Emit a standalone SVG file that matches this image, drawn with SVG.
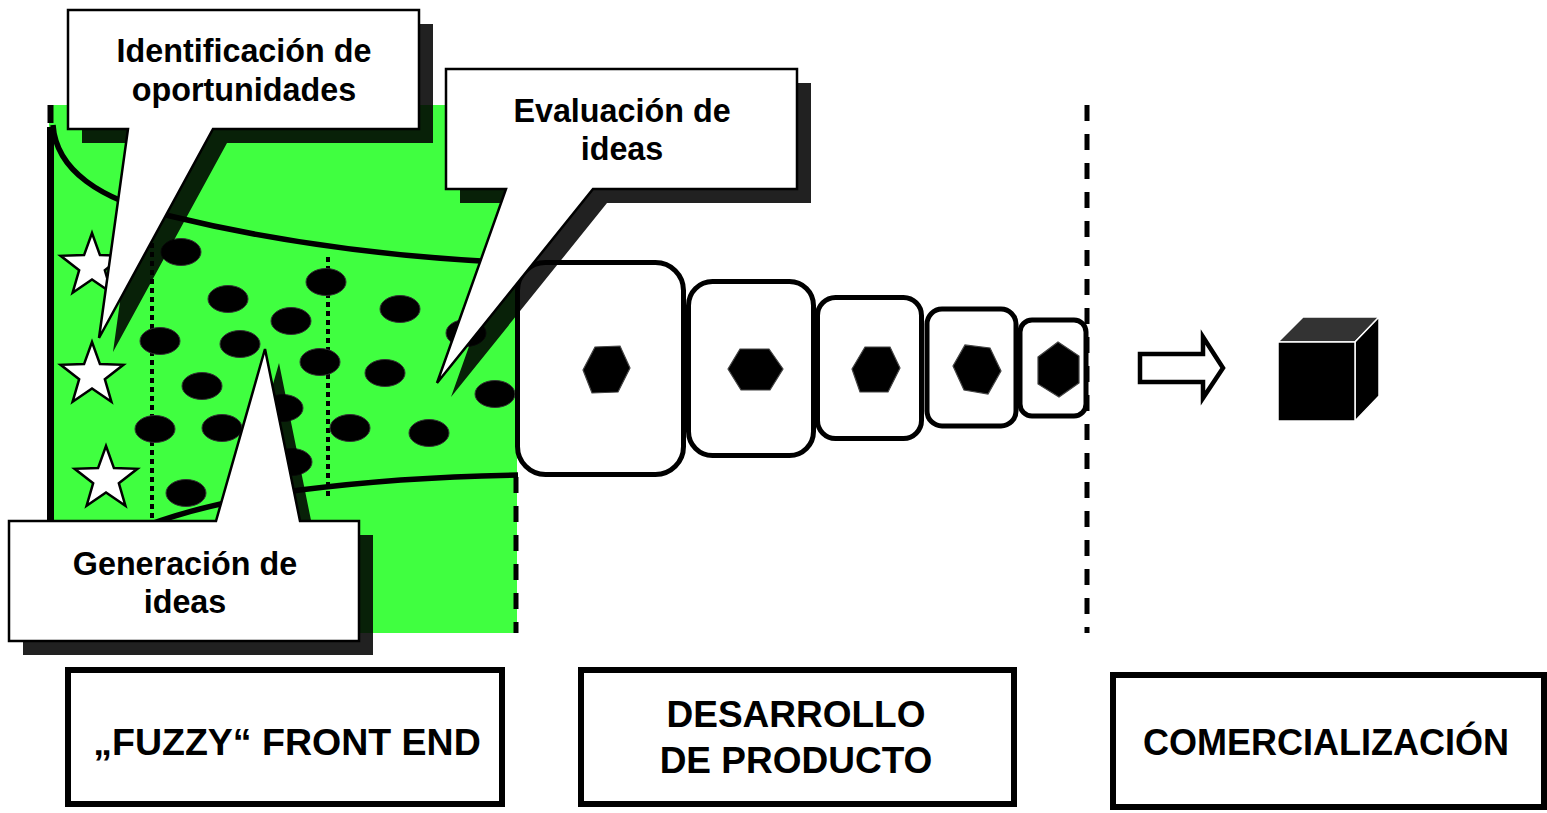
<svg xmlns="http://www.w3.org/2000/svg" width="1547" height="813" viewBox="0 0 1547 813">
<style>
.shadow{fill:#000;fill-opacity:.87}
.callout{fill:#fff;stroke:#000;stroke-width:2.5;stroke-linejoin:miter}
.ct{font-family:"Liberation Sans",Arial,sans-serif;font-weight:bold;font-size:32.3px;text-anchor:middle;fill:#000}
.lbox{fill:#fff;stroke:#000;stroke-width:6}
.lt{font-family:"Liberation Sans",Arial,sans-serif;font-weight:bold;font-size:36px;text-anchor:middle;fill:#000}
.dev{fill:#fff;stroke:#000;stroke-width:5}
.hex{fill:#000;stroke:#444;stroke-width:1.2}
.dot{fill:#000;stroke:#333;stroke-width:1}
.star{fill:#fff;stroke:#000;stroke-width:2.5;stroke-linejoin:miter}
.thick{fill:none;stroke:#000;stroke-width:5.5}
.dotted{fill:none;stroke:#000;stroke-width:4;stroke-dasharray:5 4}
.dashed{fill:none;stroke:#000;stroke-width:5;stroke-dasharray:16 13}
</style>
<defs>
<polygon id="star" class="star" points="0,-33 7.94,-10.92 31.38,-10.2 12.84,4.17 19.4,26.7 0,13.5 -19.4,26.7 -12.84,4.17 -31.38,-10.2 -7.94,-10.92"/>
<ellipse id="dot" class="dot" cx="0" cy="0" rx="20" ry="13.5"/>
</defs>
<rect width="1547" height="813" fill="#fff"/>

<g id="fuzzy-area">
<rect x="49" y="105" width="468" height="528" fill="#40ff40"/>
<line x1="50.5" y1="105" x2="50.5" y2="123" stroke="#000" stroke-width="6"/>
<line x1="50.5" y1="127" x2="50.5" y2="633" stroke="#000" stroke-width="7"/>
<path class="thick" d="M53,125 C56,170 100,200 170,216 C260,238 380,257 518,263"/>
<path class="thick" d="M130,532 Q200,503 300,490 T518,475"/>
<line class="dotted" x1="152" y1="243" x2="152" y2="528"/>
<line class="dotted" x1="328" y1="257" x2="328" y2="496"/>
</g>

<g id="ideas">
<use href="#dot" x="181" y="252"/>
<use href="#dot" x="228" y="299"/>
<use href="#dot" x="326" y="282"/>
<use href="#dot" x="291" y="321"/>
<use href="#dot" x="400" y="309"/>
<use href="#dot" x="160" y="341"/>
<use href="#dot" x="240" y="344"/>
<use href="#dot" x="320" y="362"/>
<use href="#dot" x="202" y="386"/>
<use href="#dot" x="385" y="373"/>
<use href="#dot" x="466" y="333"/>
<use href="#dot" x="495" y="394"/>
<use href="#dot" x="155" y="429"/>
<use href="#dot" x="222" y="428"/>
<use href="#dot" x="350" y="428"/>
<use href="#dot" x="429" y="433"/>
<use href="#dot" x="186" y="493"/>
<use href="#dot" x="283" y="408"/>
<use href="#dot" x="292" y="462"/>
</g>

<g id="opportunities">
<use href="#star" x="92" y="266"/>
<use href="#star" x="92" y="375"/>
<use href="#star" x="106" y="479"/>
</g>

<g id="dev-stage-1"><rect class="dev" x="517.5" y="262.5" width="166" height="212" rx="28"/><polygon class="hex" points="583,370 595,347 620,346 630,368 618,392 592,393"/></g>
<g id="dev-stage-2"><rect class="dev" x="688.5" y="281.5" width="125" height="174" rx="24"/><polygon class="hex" points="728,369 740,349 769,349 783,369 770,390 741,390"/></g>
<g id="dev-stage-3"><rect class="dev" x="817.5" y="297.5" width="104" height="141" rx="18"/><polygon class="hex" points="852,369 865,347 890,347 900,368 888,392 860,392"/></g>
<g id="dev-stage-4"><rect class="dev" x="927" y="309" width="89" height="117" rx="15"/><polygon class="hex" points="953,366 965,345 990,348 1001,371 988,394 964,390"/></g>
<g id="dev-stage-5"><rect class="dev" x="1020" y="320" width="66" height="96" rx="12"/><polygon class="hex" points="1038,357 1058,342 1079,356 1079,383 1059,397 1038,384"/></g>

<g id="separators">
<line class="dashed" x1="516" y1="477" x2="516" y2="633"/>
<line class="dashed" x1="1087" y1="105" x2="1087" y2="633"/>
</g>

<g id="connectors">
<polygon points="1140,354 1203,354 1203,337 1223,368 1203,398 1203,382 1140,382" fill="#fff" stroke="#000" stroke-width="4.5" stroke-linejoin="miter"/>
</g>

<g id="product">
<polygon points="1278,342 1303,317 1379,317 1355,342" fill="#333" stroke="#fff" stroke-width="1.5"/>
<polygon points="1355,342 1379,317 1379,396 1355,421" fill="#000" stroke="#fff" stroke-width="1.5"/>
<rect x="1278" y="342" width="77" height="79" fill="#000" stroke="#fff" stroke-width="1.5"/>
</g>

<g id="callout-identificacion">
<polygon class="shadow" transform="translate(14,14)" points="68,10 419,10 419,129 213,129 99,338 128,129 68,129"/>
<polygon class="callout" points="68,10 419,10 419,129 213,129 99,338 128,129 68,129"/>
<text class="ct" x="244" y="62">Identificación de</text>
<text class="ct" x="244" y="101">oportunidades</text>
</g>

<g id="callout-evaluacion">
<polygon class="shadow" transform="translate(14,14)" points="446,69 797,69 797,189 593,189 437,383 506,189 446,189"/>
<polygon class="callout" points="446,69 797,69 797,189 593,189 437,383 506,189 446,189"/>
<text class="ct" x="622" y="122">Evaluación de</text>
<text class="ct" x="622" y="160">ideas</text>
</g>

<g id="callout-generacion">
<polygon class="shadow" transform="translate(14,14)" points="9,521 216,521 265,349 300,521 359,521 359,641 9,641"/>
<polygon class="callout" points="9,521 216,521 265,349 300,521 359,521 359,641 9,641"/>
<text class="ct" x="185" y="575">Generación de</text>
<text class="ct" x="185" y="613">ideas</text>
</g>

<g id="label-fuzzy">
<rect class="lbox" x="68" y="670" width="434" height="134"/>
<text class="lt" x="287" y="755" style="font-size:37.5px">„FUZZY“ FRONT END</text>
</g>
<g id="label-desarrollo">
<rect class="lbox" x="581" y="670" width="433" height="134"/>
<text class="lt" x="796" y="727" style="font-size:37px">DESARROLLO</text>
<text class="lt" x="796" y="773" style="font-size:37px">DE PRODUCTO</text>
</g>
<g id="label-comercializacion">
<rect class="lbox" x="1113" y="675" width="431" height="132"/>
<text class="lt" x="1326" y="755">COMERCIALIZACIÓN</text>
</g>
</svg>
